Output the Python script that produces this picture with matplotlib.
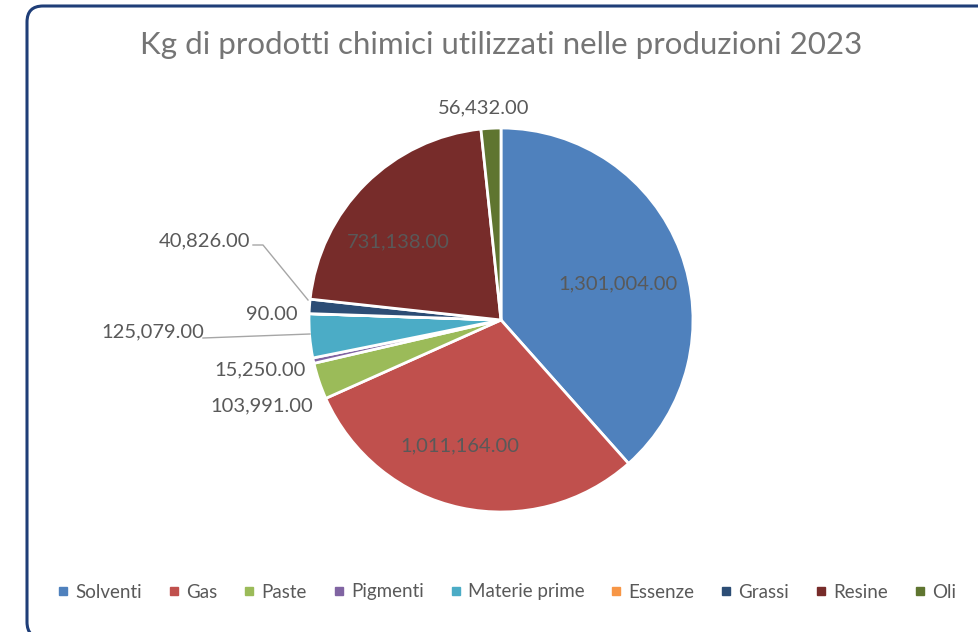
import numpy as np
import matplotlib
import matplotlib.pyplot as plt
from matplotlib.patches import FancyBboxPatch
from matplotlib.lines import Line2D
from matplotlib.transforms import IdentityTransform

plt.rcParams['font.family'] = ['Lato', 'DejaVu Sans']

# data
categorie = ["Solventi", "Gas", "Paste", "Pigmenti", "Materie prime",
             "Essenze", "Grassi", "Resine", "Oli"]
kg = [1301004, 1011164, 103991, 15250, 125079, 90, 40826, 731138, 56432]
colori = ["#4F81BD", "#C0504D", "#9BBB59", "#8064A2", "#4BACC6",
          "#F79646", "#2C4D75", "#772C2A", "#5F7530"]
titolo = "Kg di prodotti chimici utilizzati nelle produzioni 2023"

W, H = 979, 632
fig = plt.figure(figsize=(W / 100, H / 100), dpi=100)

# rounded frame (pixel coords, origin bottom-left)
frame = FancyBboxPatch((27, -6), 1010, 632, boxstyle="round,pad=0,rounding_size=16",
                       transform=IdentityTransform(), fill=False,
                       edgecolor="#1F3E78", linewidth=2.2)
fig.patches.append(frame)

fig.text(501 / W, 1 - 45 / H, titolo, ha="center", va="center",
         fontsize=22.5, color="#757575")

# pie axes: centre (501, 320) px, radius 192 px
cx, cy, r = 501, 320, 192
ax = fig.add_axes([(cx - r) / W, (H - cy - r) / H, 2 * r / W, 2 * r / H])

wedges, _ = ax.pie(kg, colors=colori, startangle=90, counterclock=False,
                   radius=1.0, wedgeprops=dict(edgecolor="white", linewidth=2))
ax.set_xlim(-1, 1)
ax.set_ylim(-1, 1)
ax.axis("off")

def fmt(v):
    return f"{v:,.2f}"

lab_col = "#595959"
# inside labels for large slices
inside = {0: 0.64, 1: 0.69, 7: 0.67}
shift = {0: -3.5, 1: -6, 7: 8}
for i, d in inside.items():
    w = wedges[i]
    ang = np.deg2rad((w.theta1 + w.theta2) / 2 + shift[i])
    ax.text(d * np.cos(ang), d * np.sin(ang), fmt(kg[i]), ha="center",
            va="center", fontsize=14.5, color=lab_col)

def px(x, y):
    return ((x - cx) / r, (cy - y) / r)

# outside labels (positions in px, from the reference layout)
fuori = {8: (484, 108), 6: (205, 241), 5: (272, 314), 4: (153, 332),
         3: (260, 370), 2: (262, 406)}
for i, (x, y) in fuori.items():
    ax.text(*px(x, y), fmt(kg[i]), ha="center", va="center", fontsize=14.5,
            color=lab_col, clip_on=False)

# leader lines
leaders = [[(253, 245), (263, 245), (308, 300)],
           [(203, 338), (310, 334)]]
for pts in leaders:
    xs, ys = zip(*[px(x, y) for x, y in pts])
    ax.plot(xs, ys, color="#A6A6A6", linewidth=1, clip_on=False)

handles = [Line2D([], [], marker="s", linestyle="", markersize=6,
                  markerfacecolor=c, markeredgecolor=c) for c in colori]
fig.legend(handles, categorie, loc="center", bbox_to_anchor=(507 / W, 1 - 592 / H),
           ncol=len(categorie), frameon=False, fontsize=13.5, handlelength=0.6,
           handletextpad=0.35, columnspacing=1.4, labelcolor="#595959")

fig.savefig("out.png", dpi=100)
